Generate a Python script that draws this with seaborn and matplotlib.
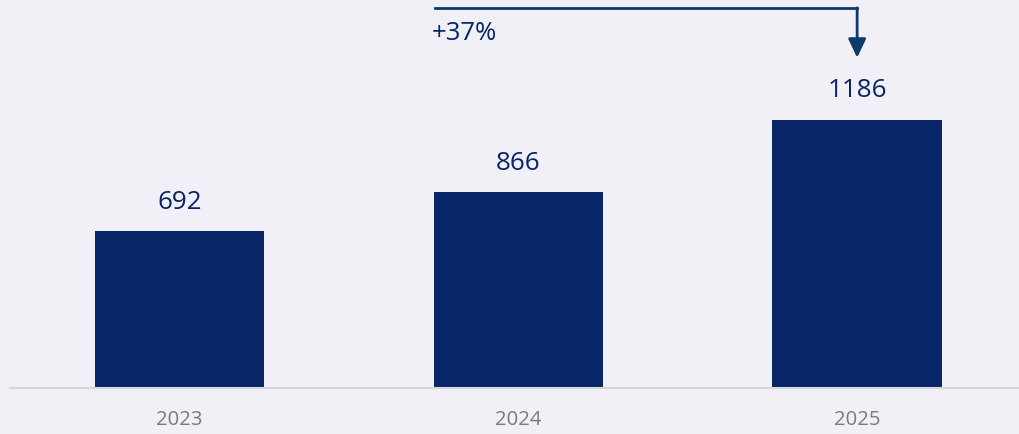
import matplotlib.pyplot as plt
import seaborn as sns
import pandas as pd

years = ["2023", "2024", "2025"]
values = [692, 866, 1186]
growth_label = "+37%"

BG = "#f0f0f6"
NAVY = "#082567"
ARROW = "#0c3a6b"

sns.set_theme(style="white")
plt.rcParams["font.family"] = ["Open Sans", "DejaVu Sans"]

df = pd.DataFrame({"year": years, "value": values})

fig = plt.figure(figsize=(10.2, 4.34), dpi=100)
fig.patch.set_facecolor(BG)
ax = fig.add_axes([0.0098, 0.106, 0.99, 0.894])
ax.set_facecolor(BG)

sns.barplot(data=df, x="year", y="value", color=NAVY, width=0.5,
            saturation=1, linewidth=0, ax=ax)

ax.set_xlim(-0.5, 2.48)
ax.set_ylim(0, 1715)

for i, v in enumerate(values):
    ax.text(i, v + 128, str(v), ha="center", va="center",
            fontsize=18.7, color=NAVY)

# growth arrow from 2024 to 2025
ax.plot([0.755, 2.0], [1680, 1680], color=ARROW, lw=2, solid_capstyle="projecting")
ax.annotate("", xy=(2.0, 1460), xytext=(2.0, 1680),
            arrowprops=dict(arrowstyle="-|>,head_length=0.95,head_width=0.45",
                            color=ARROW, lw=2, shrinkA=0, shrinkB=0))
ax.text(0.744, 1569, growth_label, ha="left", va="center",
        fontsize=18.5, color=NAVY)

ax.set_xlabel("")
ax.set_ylabel("")
ax.set_yticks([])
ax.tick_params(axis="x", length=0, pad=16, labelsize=14.6, labelcolor="#7a7a7a")
for side in ["top", "right", "left"]:
    ax.spines[side].set_visible(False)
ax.spines["bottom"].set_color("#d6d6dc")
ax.spines["bottom"].set_linewidth(1.5)

fig.savefig("out.png", dpi=100, facecolor=BG)
